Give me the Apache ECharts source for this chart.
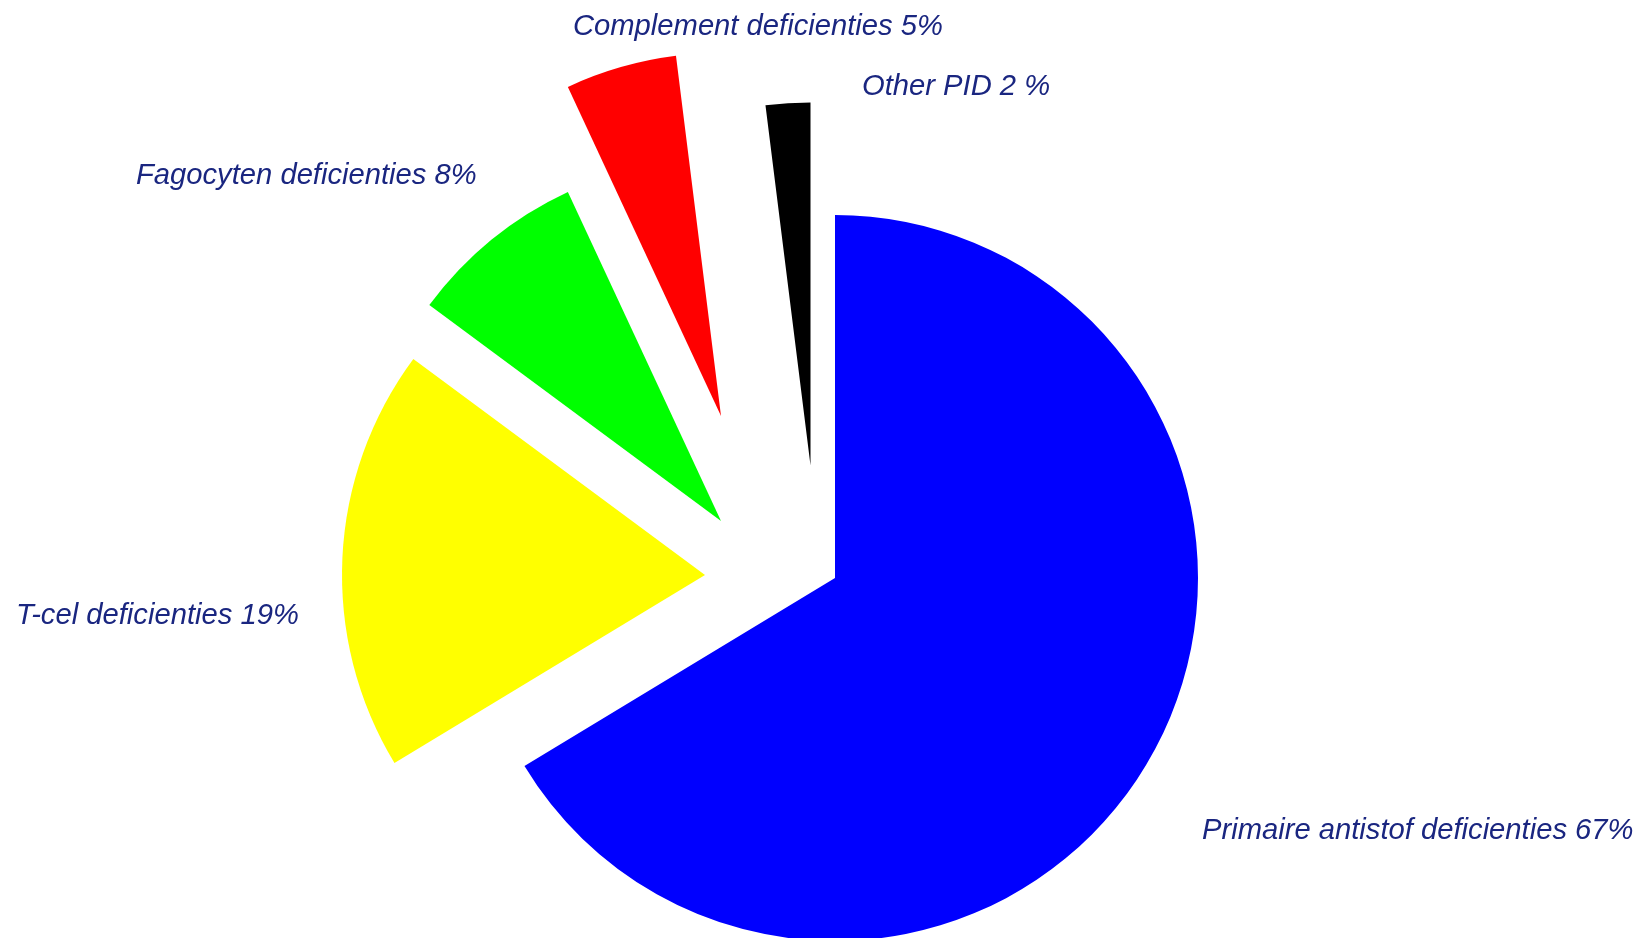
<!DOCTYPE html>
<html><head><meta charset="utf-8">
<script src="https://cdn.jsdelivr.net/npm/echarts@6/dist/echarts.min.js"></script>
<style>html,body{margin:0;padding:0;background:#fff;overflow:hidden}#chart{width:1648px;height:938px}</style>
</head><body><div id="chart"></div>
<script>
// ---- data ----
const categories = ['Primaire antistof deficienties', 'T-cel deficienties', 'Fagocyten deficienties', 'Complement deficienties', 'Other PID'];
const values = [67, 19, 8, 5, 2];
const labelTexts = ['Primaire antistof deficienties 67%', 'T-cel deficienties 19%', 'Fagocyten deficienties 8%', 'Complement deficienties 5%', 'Other PID 2 %'];

// ---- style / layout ----
const colors = ['#0000ff', '#ffff00', '#00ff00', '#ff0000', '#000000'];
const pieCenter = [835, 578];
const pieRadius = 363;
const sliceOffsets = [[0, 0], [-130, -3], [-114, -57], [-114, -162], [-24.5, -112.5]];
const labelAnchors = [[1202, 831], [16, 616], [136, 176], [573, 27], [862, 87]];

const chart = echarts.init(document.getElementById('chart'), null, {renderer: 'canvas'});
const series = categories.map((c, i) => ({
  type: 'pie',
  center: [pieCenter[0] + sliceOffsets[i][0], pieCenter[1] + sliceOffsets[i][1]],
  radius: [0, pieRadius],
  startAngle: 90,
  clockwise: true,
  avoidLabelOverlap: false,
  minAngle: 0,
  silent: true,
  animation: false,
  itemStyle: {borderWidth: 0},
  emphasis: {disabled: true},
  labelLine: {show: false},
  label: {show: false},
  labelLayout: function (p) {
    if (p.dataIndex !== i) return {};
    return {x: labelAnchors[i][0], y: labelAnchors[i][1], align: 'left', verticalAlign: 'middle'};
  },
  data: categories.map((name, j) => ({
    name: name,
    value: values[j],
    itemStyle: {color: j === i ? colors[j] : 'rgba(0,0,0,0)'},
    labelLine: {show: false},
    label: {
      show: j === i,
      position: 'outside',
      formatter: labelTexts[j],
      fontFamily: 'Liberation Sans',
      fontStyle: 'italic',
      fontSize: 29.2,
      color: '#1a2680'
    }
  }))
}));
chart.setOption({backgroundColor: '#ffffff', animation: false, series: series});
</script>
</body></html>
